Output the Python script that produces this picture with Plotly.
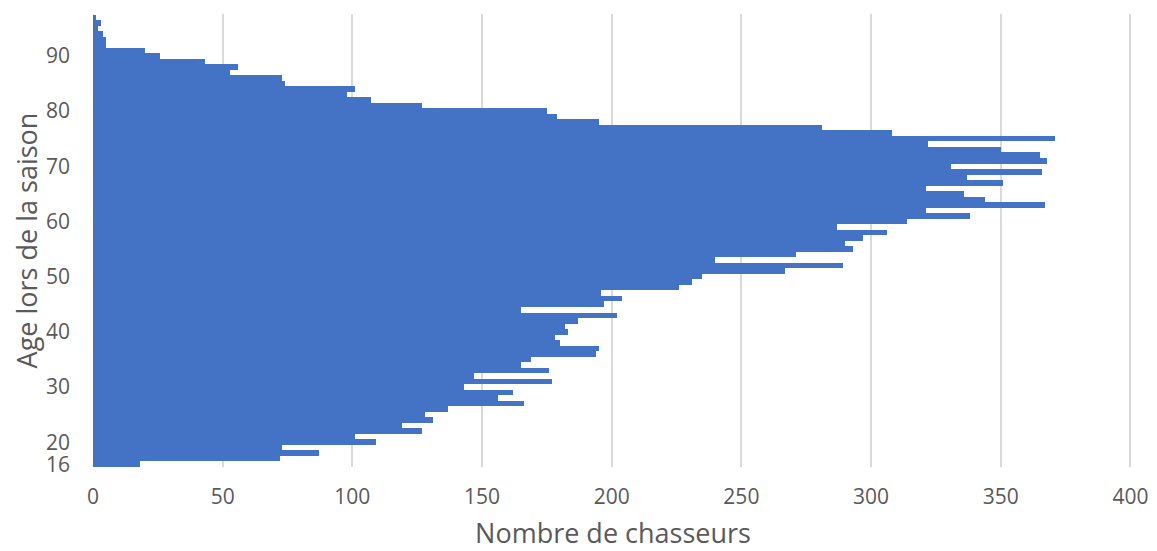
import plotly.graph_objects as go

ages = list(range(16, 98))
hunters = [18, 72, 87, 73, 109, 101, 127, 119, 131, 128,
           137, 166, 156, 162, 143, 177, 147, 176, 165, 169,
           194, 195, 180, 178, 183, 182, 187, 202, 165, 197,
           204, 196, 226, 231, 235, 267, 289, 240, 271, 293,
           290, 297, 306, 287, 314, 338, 321, 367, 344, 336,
           321, 351, 337, 366, 331, 368, 365, 350, 322, 371,
           308, 281, 195, 179, 175, 127, 107, 98, 101, 74,
           73, 53, 56, 43, 26, 20, 5, 5, 4, 2,
           3, 1]
y_ticks = [16, 20, 30, 40, 50, 60, 70, 80, 90]
x_ticks = [0, 50, 100, 150, 200, 250, 300, 350, 400]

FONT = "Open Sans"
GREY = "#595959"

fig = go.Figure(go.Bar(
    x=hunters, y=ages, orientation="h",
    marker=dict(color="#4472C4", line=dict(width=0)),
))

fig.update_layout(
    width=1149, height=543,
    margin=dict(l=85, r=24, t=6, b=84, autoexpand=False),
    paper_bgcolor="white", plot_bgcolor="white",
    bargap=0,
    showlegend=False,
    font=dict(family=FONT, color=GREY, size=20),
)
fig.update_xaxes(
    range=[0, 401], tickvals=x_ticks, showgrid=True,
    gridcolor="#d9d9d9", gridwidth=2, zeroline=False,
    showline=False, ticks="", ticklabelstandoff=15, automargin=False,
    tickfont=dict(size=21, color=GREY, family=FONT),
    title=dict(text="Nombre de chasseurs", standoff=25,
               font=dict(size=27, color=GREY, family=FONT)),
)
fig.update_yaxes(
    range=[15.5, 97.6], tickvals=y_ticks, showgrid=False,
    zeroline=False, showline=False, ticks="", ticklabelstandoff=22,
    automargin=False,
    tickfont=dict(size=21, color=GREY, family=FONT),
    title=dict(text="Age lors de la saison", standoff=8,
               font=dict(size=27, color=GREY, family=FONT)),
)
fig.add_shape(type="line", xref="x", yref="paper", x0=0, x1=0, y0=0, y1=1,
              line=dict(color="#d9d9d9", width=2), layer="below")

fig.write_html("out.html")
